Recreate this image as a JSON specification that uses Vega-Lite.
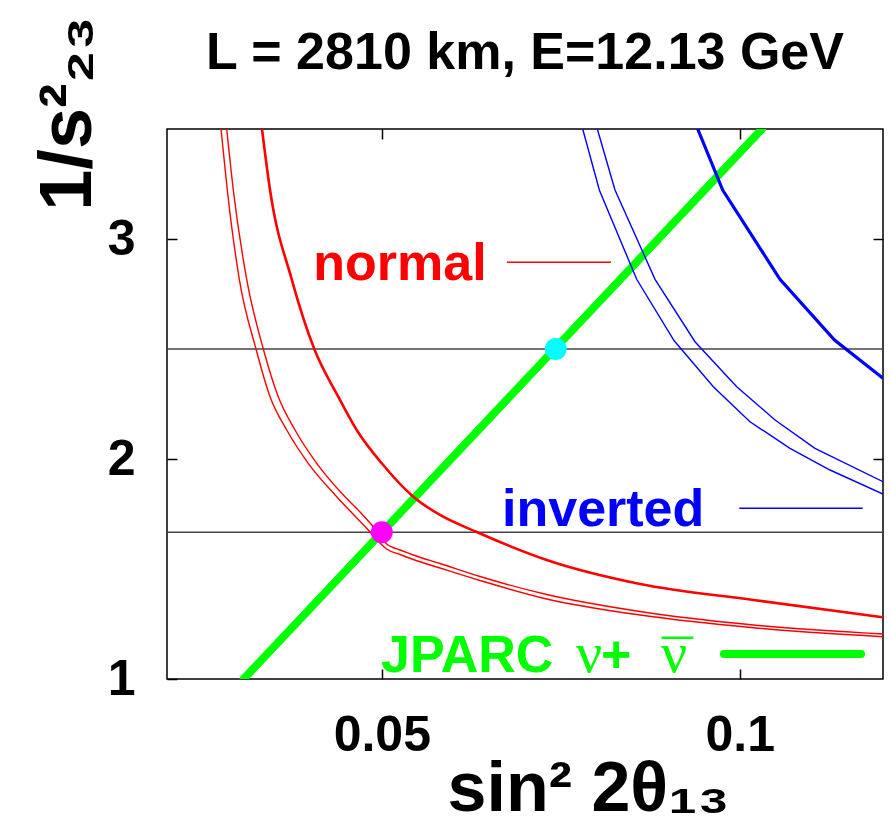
{
  "$schema": "https://vega.github.io/schema/vega-lite/v6.json",
  "width": 716,
  "height": 550,
  "autosize": {"type": "none"},
  "padding": {"left": 167, "top": 129, "right": 8, "bottom": 160},
  "background": "white",
  "config": {
    "view": {"stroke": "black", "strokeWidth": 1.5},
    "font": "Liberation Sans",
    "axis": {
      "domain": false,
      "grid": false,
      "ticks": true,
      "tickSize": -10,
      "tickColor": "black",
      "tickWidth": 1.5,
      "labelFont": "Liberation Sans",
      "labelFontWeight": "bold",
      "labelFontSize": 50,
      "labelColor": "black",
      "titleFont": "Liberation Sans",
      "titleFontWeight": "bold",
      "titleColor": "black"
    }
  },
  "title": {
    "text": "L = 2810 km, E=12.13 GeV",
    "font": "Liberation Sans",
    "fontSize": 52,
    "fontWeight": "bold",
    "color": "black",
    "anchor": "middle",
    "baseline": "alphabetic",
    "offset": -105
  },
  "datasets": {
    "curves": [
      {"c": "normal-a", "i": 0, "x": 0.02754, "y": 3.5},
      {"c": "normal-a", "i": 1, "x": 0.02842, "y": 3.2227},
      {"c": "normal-a", "i": 2, "x": 0.03010, "y": 2.8168},
      {"c": "normal-a", "i": 3, "x": 0.03243, "y": 2.5},
      {"c": "normal-a", "i": 4, "x": 0.03439, "y": 2.2832},
      {"c": "normal-a", "i": 5, "x": 0.03672, "y": 2.1318},
      {"c": "normal-a", "i": 6, "x": 0.03973, "y": 1.9805},
      {"c": "normal-a", "i": 7, "x": 0.04370, "y": 1.8286},
      {"c": "normal-a", "i": 8, "x": 0.04584, "y": 1.7545},
      {"c": "normal-a", "i": 9, "x": 0.04811, "y": 1.6773},
      {"c": "normal-a", "i": 10, "x": 0.04947, "y": 1.6273},
      {"c": "normal-a", "i": 11, "x": 0.05068, "y": 1.5909},
      {"c": "normal-a", "i": 12, "x": 0.05254, "y": 1.5659},
      {"c": "normal-a", "i": 13, "x": 0.05440, "y": 1.5432},
      {"c": "normal-a", "i": 14, "x": 0.05813, "y": 1.5045},
      {"c": "normal-a", "i": 15, "x": 0.06372, "y": 1.4477},
      {"c": "normal-a", "i": 16, "x": 0.07303, "y": 1.3636},
      {"c": "normal-a", "i": 17, "x": 0.08606, "y": 1.2909},
      {"c": "normal-a", "i": 18, "x": 0.10189, "y": 1.2332},
      {"c": "normal-a", "i": 19, "x": 0.12, "y": 1.1923},

      {"c": "normal-b", "i": 0, "x": 0.02834, "y": 3.5},
      {"c": "normal-b", "i": 1, "x": 0.02926, "y": 3.2227},
      {"c": "normal-b", "i": 2, "x": 0.03113, "y": 2.8168},
      {"c": "normal-b", "i": 3, "x": 0.03345, "y": 2.5},
      {"c": "normal-b", "i": 4, "x": 0.03554, "y": 2.2832},
      {"c": "normal-b", "i": 5, "x": 0.03788, "y": 2.1318},
      {"c": "normal-b", "i": 6, "x": 0.04091, "y": 1.9805},
      {"c": "normal-b", "i": 7, "x": 0.04486, "y": 1.8286},
      {"c": "normal-b", "i": 8, "x": 0.04696, "y": 1.7591},
      {"c": "normal-b", "i": 9, "x": 0.04919, "y": 1.6773},
      {"c": "normal-b", "i": 10, "x": 0.05003, "y": 1.6409},
      {"c": "normal-b", "i": 11, "x": 0.05068, "y": 1.6136},
      {"c": "normal-b", "i": 12, "x": 0.05156, "y": 1.5977},
      {"c": "normal-b", "i": 13, "x": 0.05254, "y": 1.5864},
      {"c": "normal-b", "i": 14, "x": 0.05440, "y": 1.5636},
      {"c": "normal-b", "i": 15, "x": 0.05813, "y": 1.525},
      {"c": "normal-b", "i": 16, "x": 0.06372, "y": 1.4659},
      {"c": "normal-b", "i": 17, "x": 0.07303, "y": 1.3841},
      {"c": "normal-b", "i": 18, "x": 0.08606, "y": 1.3068},
      {"c": "normal-b", "i": 19, "x": 0.10189, "y": 1.2455},
      {"c": "normal-b", "i": 20, "x": 0.12, "y": 1.2045},

      {"c": "normal-c", "i": 0, "x": 0.03327, "y": 3.5},
      {"c": "normal-c", "i": 1, "x": 0.03439, "y": 3.2227},
      {"c": "normal-c", "i": 2, "x": 0.03742, "y": 2.8168},
      {"c": "normal-c", "i": 3, "x": 0.04057, "y": 2.5},
      {"c": "normal-c", "i": 4, "x": 0.04392, "y": 2.2832},
      {"c": "normal-c", "i": 5, "x": 0.04649, "y": 2.1318},
      {"c": "normal-c", "i": 6, "x": 0.04999, "y": 1.9805},
      {"c": "normal-c", "i": 7, "x": 0.05440, "y": 1.8286},
      {"c": "normal-c", "i": 8, "x": 0.05813, "y": 1.7455},
      {"c": "normal-c", "i": 9, "x": 0.06325, "y": 1.6682},
      {"c": "normal-c", "i": 10, "x": 0.07303, "y": 1.5409},
      {"c": "normal-c", "i": 11, "x": 0.08606, "y": 1.4318},
      {"c": "normal-c", "i": 12, "x": 0.10189, "y": 1.3591},
      {"c": "normal-c", "i": 13, "x": 0.12, "y": 1.2805},

      {"c": "inverted-a", "i": 0, "x": 0.07806, "y": 3.5},
      {"c": "inverted-a", "i": 1, "x": 0.08038, "y": 3.2227},
      {"c": "inverted-a", "i": 2, "x": 0.08560, "y": 2.8168},
      {"c": "inverted-a", "i": 3, "x": 0.09081, "y": 2.5386},
      {"c": "inverted-a", "i": 4, "x": 0.09630, "y": 2.3286},
      {"c": "inverted-a", "i": 5, "x": 0.10142, "y": 2.1695},
      {"c": "inverted-a", "i": 6, "x": 0.10701, "y": 2.0486},
      {"c": "inverted-a", "i": 7, "x": 0.11260, "y": 1.95},
      {"c": "inverted-a", "i": 8, "x": 0.12, "y": 1.8409},

      {"c": "inverted-b", "i": 0, "x": 0.08010, "y": 3.5},
      {"c": "inverted-b", "i": 1, "x": 0.08257, "y": 3.2227},
      {"c": "inverted-b", "i": 2, "x": 0.08816, "y": 2.8168},
      {"c": "inverted-b", "i": 3, "x": 0.09374, "y": 2.5332},
      {"c": "inverted-b", "i": 4, "x": 0.09957, "y": 2.3286},
      {"c": "inverted-b", "i": 5, "x": 0.10492, "y": 2.1773},
      {"c": "inverted-b", "i": 6, "x": 0.11050, "y": 2.0486},
      {"c": "inverted-b", "i": 7, "x": 0.12, "y": 1.8968},

      {"c": "inverted-c", "i": 0, "x": 0.09412, "y": 3.5},
      {"c": "inverted-c", "i": 1, "x": 0.09761, "y": 3.2227},
      {"c": "inverted-c", "i": 2, "x": 0.10561, "y": 2.8168},
      {"c": "inverted-c", "i": 3, "x": 0.11323, "y": 2.5409},
      {"c": "inverted-c", "i": 4, "x": 0.12, "y": 2.3668}
    ],
    "levels": [{"y": 1.6667}, {"y": 2.5}],
    "jparc": [
      {"i": 0, "x": 0.0307, "y": 1.0},
      {"i": 1, "x": 0.1031, "y": 3.5}
    ],
    "points": [
      {"name": "normal", "x": 0.05, "y": 1.6667},
      {"name": "inverted", "x": 0.0743, "y": 2.5}
    ]
  },
  "encoding": {
    "x": {"type": "quantitative", "scale": {"domain": [0.02, 0.12], "nice": false, "zero": false}},
    "y": {"type": "quantitative", "scale": {"domain": [1, 3.5], "nice": false, "zero": false}}
  },
  "layer": [
    {
      "data": {"name": "levels"},
      "mark": {"type": "rule", "color": "#444444", "strokeWidth": 1.5},
      "encoding": {
        "y": {"field": "y", "type": "quantitative", "axis": {
          "orient": "left", "values": [1, 2, 3], "format": "d",
          "labelPadding": 42,
          "title": "1/s²₂₃", "titleFontSize": 74, "titleAngle": 270,
          "titleAlign": "center", "titleBaseline": "alphabetic",
          "titleX": -77, "titleY": -16
        }}
      }
    },
    {
      "data": {"name": "jparc"},
      "mark": {"type": "line", "color": "#00ff00", "strokeWidth": 8, "strokeCap": "round", "clip": true},
      "encoding": {
        "x": {"field": "x", "type": "quantitative", "axis": {
          "orient": "bottom", "values": [0.05, 0.1], "format": ".2~f",
          "labelPadding": 41,
          "title": "sin² 2θ₁₃", "titleFontSize": 70,
          "titleAlign": "center", "titleBaseline": "alphabetic",
          "titleX": 421, "titleY": 131
        }},
        "y": {"field": "y", "type": "quantitative", "axis": null},
        "order": {"field": "i"}
      }
    },
    {
      "data": {"name": "curves"},
      "transform": [{"filter": "datum.c === 'normal-a' || datum.c === 'normal-b'"}],
      "mark": {"type": "line", "color": "#ff0000", "strokeWidth": 1.4, "interpolate": "monotone", "clip": true},
      "encoding": {
        "x": {"field": "x", "type": "quantitative", "axis": {
          "orient": "top", "values": [0.05, 0.1], "labels": false, "title": null
        }},
        "y": {"field": "y", "type": "quantitative", "axis": {
          "orient": "right", "values": [2, 3], "labels": false, "title": null
        }},
        "detail": {"field": "c"},
        "order": {"field": "i"}
      }
    },
    {
      "data": {"name": "curves"},
      "transform": [{"filter": "datum.c === 'normal-c'"}],
      "mark": {"type": "line", "color": "#ff0000", "strokeWidth": 2.6, "interpolate": "monotone", "clip": true},
      "encoding": {
        "x": {"field": "x", "type": "quantitative", "axis": null},
        "y": {"field": "y", "type": "quantitative", "axis": null},
        "order": {"field": "i"}
      }
    },
    {
      "data": {"name": "curves"},
      "transform": [{"filter": "datum.c === 'inverted-a' || datum.c === 'inverted-b'"}],
      "mark": {"type": "line", "color": "#0000ff", "strokeWidth": 1.4, "clip": true},
      "encoding": {
        "x": {"field": "x", "type": "quantitative", "axis": null},
        "y": {"field": "y", "type": "quantitative", "axis": null},
        "detail": {"field": "c"},
        "order": {"field": "i"}
      }
    },
    {
      "data": {"name": "curves"},
      "transform": [{"filter": "datum.c === 'inverted-c'"}],
      "mark": {"type": "line", "color": "#0000ff", "strokeWidth": 3.2, "clip": true},
      "encoding": {
        "x": {"field": "x", "type": "quantitative", "axis": null},
        "y": {"field": "y", "type": "quantitative", "axis": null},
        "order": {"field": "i"}
      }
    },
    {
      "data": {"name": "points"},
      "mark": {"type": "point", "filled": true, "opacity": 1, "size": 480},
      "encoding": {
        "x": {"field": "x", "type": "quantitative", "axis": null},
        "y": {"field": "y", "type": "quantitative", "axis": null},
        "color": {"field": "name", "type": "nominal", "legend": null,
          "scale": {"domain": ["normal", "inverted"], "range": ["#ff00ff", "#00ffff"]}}
      }
    },
    {
      "data": {"values": [{"label": "normal", "x": 0.04043, "y": 2.8136}]},
      "mark": {"type": "text", "align": "left", "baseline": "alphabetic", "font": "Liberation Sans", "fontWeight": "bold", "fontSize": 52, "color": "#ff0000"},
      "encoding": {
        "x": {"field": "x", "type": "quantitative", "axis": null},
        "y": {"field": "y", "type": "quantitative", "axis": null},
        "text": {"field": "label"}
      }
    },
    {
      "data": {"values": [{"label": "inverted", "x": 0.06679, "y": 1.6955}]},
      "mark": {"type": "text", "align": "left", "baseline": "alphabetic", "font": "Liberation Sans", "fontWeight": "bold", "fontSize": 52, "color": "#0000ff"},
      "encoding": {
        "x": {"field": "x", "type": "quantitative", "axis": null},
        "y": {"field": "y", "type": "quantitative", "axis": null},
        "text": {"field": "label"}
      }
    },
    {
      "data": {"values": [
        {"label": "JPARC", "x": 0.04989, "y": 1.0318},
        {"label": "+", "x": 0.08061, "y": 1.0318}
      ]},
      "mark": {"type": "text", "align": "left", "baseline": "alphabetic", "font": "Liberation Sans", "fontWeight": "bold", "fontSize": 52, "color": "#00ff00"},
      "encoding": {
        "x": {"field": "x", "type": "quantitative", "axis": null},
        "y": {"field": "y", "type": "quantitative", "axis": null},
        "text": {"field": "label"}
      }
    },
    {
      "data": {"values": [
        {"label": "ν", "x": 0.07712, "y": 1.0318},
        {"label": "ν", "x": 0.08899, "y": 1.0318}
      ]},
      "mark": {"type": "text", "align": "left", "baseline": "alphabetic", "font": "Liberation Serif", "fontSize": 58, "color": "#00ff00"},
      "encoding": {
        "x": {"field": "x", "type": "quantitative", "axis": null},
        "y": {"field": "y", "type": "quantitative", "axis": null},
        "text": {"field": "label"}
      }
    },
    {
      "data": {"values": [{"key": "antineutrino bar", "x": 0.08909, "x2": 0.09351, "y": 1.1877}]},
      "mark": {"type": "rule", "color": "#00ff00", "strokeWidth": 2.5},
      "encoding": {
        "x": {"field": "x", "type": "quantitative", "axis": null},
        "x2": {"field": "x2"},
        "y": {"field": "y", "type": "quantitative", "axis": null}
      }
    },
    {
      "data": {"values": [{"key": "normal", "x": 0.06749, "x2": 0.08201, "y": 2.894}]},
      "mark": {"type": "rule", "color": "#ff0000", "strokeWidth": 1.4},
      "encoding": {
        "x": {"field": "x", "type": "quantitative", "axis": null},
        "x2": {"field": "x2"},
        "y": {"field": "y", "type": "quantitative", "axis": null}
      }
    },
    {
      "data": {"values": [{"key": "inverted", "x": 0.09993, "x2": 0.11716, "y": 1.7759}]},
      "mark": {"type": "rule", "color": "#0000ff", "strokeWidth": 1.4},
      "encoding": {
        "x": {"field": "x", "type": "quantitative", "axis": null},
        "x2": {"field": "x2"},
        "y": {"field": "y", "type": "quantitative", "axis": null}
      }
    },
    {
      "data": {"values": [{"key": "JPARC", "x": 0.09779, "x2": 0.11693, "y": 1.1136}]},
      "mark": {"type": "rule", "color": "#00ff00", "strokeWidth": 8, "strokeCap": "round"},
      "encoding": {
        "x": {"field": "x", "type": "quantitative", "axis": null},
        "x2": {"field": "x2"},
        "y": {"field": "y", "type": "quantitative", "axis": null}
      }
    }
  ],
  "resolve": {"axis": {"x": "independent", "y": "independent"}}
}
